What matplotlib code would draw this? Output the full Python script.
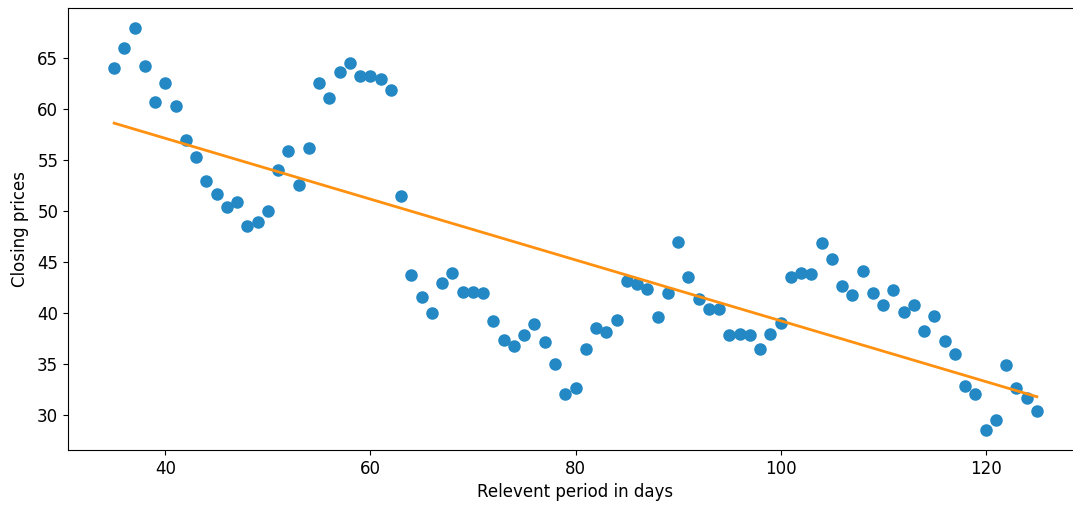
import matplotlib
matplotlib.use("Agg")
import matplotlib.pyplot as plt
import numpy as np

# Relevant period (days) and closing prices
days = list(range(35, 126))
closing = [
    64.0, 66.0, 67.9, 64.2, 60.7, 62.6, 60.3, 57.0, 55.3, 53.0,
    51.7, 50.4, 50.9, 48.5, 48.9, 50.0, 54.0, 55.9, 52.6, 56.2,
    62.6, 61.1, 63.6, 64.5, 63.2, 63.2, 62.9, 61.9, 51.5, 43.7,
    41.6, 40.0, 43.0, 43.9, 42.1, 42.1, 42.0, 39.2, 37.4, 36.8,
    37.9, 38.9, 37.2, 35.0, 32.1, 32.7, 36.5, 38.6, 38.2, 39.3,
    43.2, 42.9, 42.4, 39.6, 42.0, 47.0, 43.5, 41.4, 40.4, 40.4,
    37.9, 38.0, 37.9, 36.5, 38.0, 39.0, 43.5, 43.9, 43.8, 46.9,
    45.3, 42.7, 41.8, 44.1, 42.0, 40.8, 42.3, 40.1, 40.8, 38.3,
    39.7, 37.3, 36.0, 32.9, 32.1, 28.6, 29.5, 34.9, 32.7, 31.7,
    30.4,
]

x = np.array(days)
y = np.array(closing)
# straight line fit through the closing prices
slope, intercept = np.polyfit(x, y, 1)

fig = plt.figure(figsize=(10.73, 5.08), dpi=100)
ax = fig.add_axes([68 / 1073, 58 / 508, 1015 / 1073, 442 / 508])

ax.scatter(x, y, s=64, color="#2388c4", zorder=2)
ax.plot(x, slope * x + intercept, color="#ff9010", linewidth=2, zorder=3)

ax.set_xlim(30.5, 129.5)
ax.set_ylim(26.6, 69.9)
ax.set_xlabel("Relevent period in days", fontsize=12)
ax.set_ylabel("Closing prices", fontsize=12, labelpad=6)
ax.tick_params(labelsize=12)

fig.savefig("out.png", dpi=100)
